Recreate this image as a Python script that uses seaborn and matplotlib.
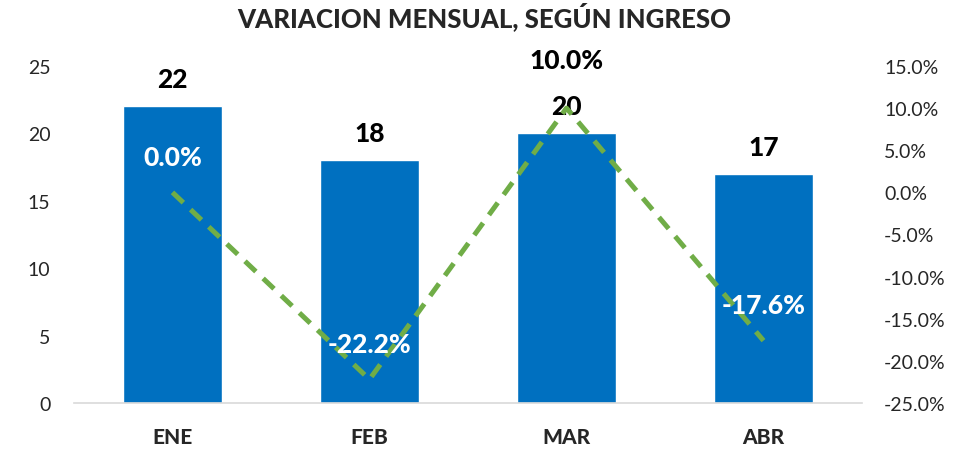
import pandas as pd
import matplotlib.pyplot as plt
import seaborn as sns

meses = ["ENE", "FEB", "MAR", "ABR"]
ingresos = [22, 18, 20, 17]
variacion = [0.0, -22.2, 10.0, -17.6]

sns.set_theme(style="white")
plt.rcParams["font.family"] = ["Lato", "DejaVu Sans"]

df = pd.DataFrame({"mes": meses, "ingreso": ingresos, "var": variacion})

fig = plt.figure(figsize=(9.68, 4.52), dpi=100)
ax = fig.add_axes([0.0764, 0.1062, 0.8141, 0.7456])

sns.barplot(data=df, x="mes", y="ingreso", color="#0070C0", width=0.5,
            saturation=1, ax=ax)
ax.set_ylim(0, 25)
ax.set_xlim(-0.5, 3.5)
ax.set_yticks(range(0, 26, 5))
ax.set_xlabel("")
ax.set_ylabel("")
ax.tick_params(axis="y", labelsize=14, length=0, pad=17)
ax.tick_params(axis="x", labelsize=15, length=0, pad=17)
for lab in ax.get_xticklabels():
    lab.set_fontweight("black")
for s in ["top", "right", "left"]:
    ax.spines[s].set_visible(False)
ax.spines["bottom"].set_color("#D9D9D9")
ax.spines["bottom"].set_linewidth(1.2)

for i, v in enumerate(ingresos):
    ax.annotate(str(v), (i, v), xytext=(0, 11), textcoords="offset points",
                ha="center", va="bottom", fontsize=19, fontweight="black",
                color="black")

ax2 = ax.twinx()
sns.lineplot(x=list(range(len(meses))), y=variacion, ax=ax2, color="#70AD47",
             linewidth=3.6, linestyle=(0, (3, 2)))
ax2.set_ylim(-25, 15)
ax2.set_yticks(range(-25, 16, 5))
ax2.set_yticklabels([f"{t:.1f}%" for t in range(-25, 16, 5)])
ax2.tick_params(axis="y", labelsize=14, length=0, pad=16)
for s in ["top", "right", "left", "bottom"]:
    ax2.spines[s].set_visible(False)

# white text when the label sits inside the bar, black (and pushed up) above it
for i, v in enumerate(variacion):
    disp = ax2.transData.transform((i, v))
    bar_top = ax.transData.transform((i, ingresos[i]))[1]
    inside = disp[1] + 30 < bar_top
    col = "white" if inside else "black"
    off = 17 if inside else 26
    ax2.annotate(f"{v:.1f}%", (i, v), xytext=(0, off), textcoords="offset points",
                 ha="center", va="bottom", fontsize=19, fontweight="black",
                 color=col, annotation_clip=False)

fig.suptitle("VARIACION MENSUAL, SEGÚN INGRESO", fontsize=18.5, fontweight="black",
             y=0.995)

fig.savefig("out.png", dpi=100)
